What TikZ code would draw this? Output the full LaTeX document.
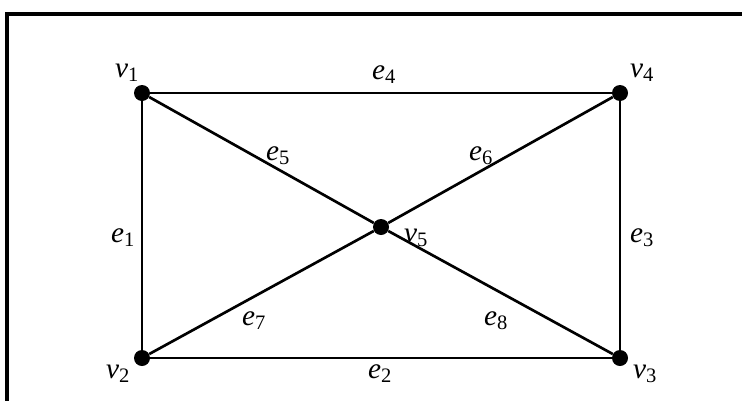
\documentclass[tikz,border=0pt]{standalone}
\usepackage{fontspec}
\setmainfont{Liberation Serif}
\usetikzlibrary{positioning}
\newcommand{\lbl}[2]{#1\textsubscript{\upshape #2}}

\begin{document}
\begin{tikzpicture}[x=0.75pt, y=-0.75pt,
	every node/.style={font=\fontsize{22}{24}\selectfont\itshape},
	vertex/.style={circle, fill=black, inner sep=0pt, minimum size=12pt},
	edge/.style={line width=2pt}]
	\useasboundingbox (0,0) rectangle (742,400);
	\draw[line width=2.6pt] (7,402) |- (744,14);
	\node[vertex] (v1) at (142,93) {};
	\node[vertex] (v4) at (620,93) {};
	\node[vertex] (v2) at (142,358) {};
	\node[vertex] (v3) at (620,358) {};
	\node[vertex] (v5) at (381,227) {};
	\foreach \a/\b in {v1/v4, v1/v2, v4/v3, v2/v3, v1/v5, v5/v3, v4/v5, v5/v2}
		\draw[edge] (\a) -- (\b);
	\node (lv1) at (127,73) {\lbl{v}{1}};
	\node (lv4) at (642,73) {\lbl{v}{4}};
	\node (lv2) at (118,374) {\lbl{v}{2}};
	\node (lv3) at (645,374) {\lbl{v}{3}};
	\node (lv5) at (416,238) {\lbl{v}{5}};
	\node (le4) at (384,75) {\lbl{e}{4}};
	\node (le5) at (278,156) {\lbl{e}{5}};
	\node (le6) at (481,156) {\lbl{e}{6}};
	\node (le1) at (123,238) {\lbl{e}{1}};
	\node (le3) at (642,238) {\lbl{e}{3}};
	\node (le7) at (254,321) {\lbl{e}{7}};
	\node (le8) at (496,321) {\lbl{e}{8}};
	\node (le2) at (380,374) {\lbl{e}{2}};
\end{tikzpicture}
\end{document}
